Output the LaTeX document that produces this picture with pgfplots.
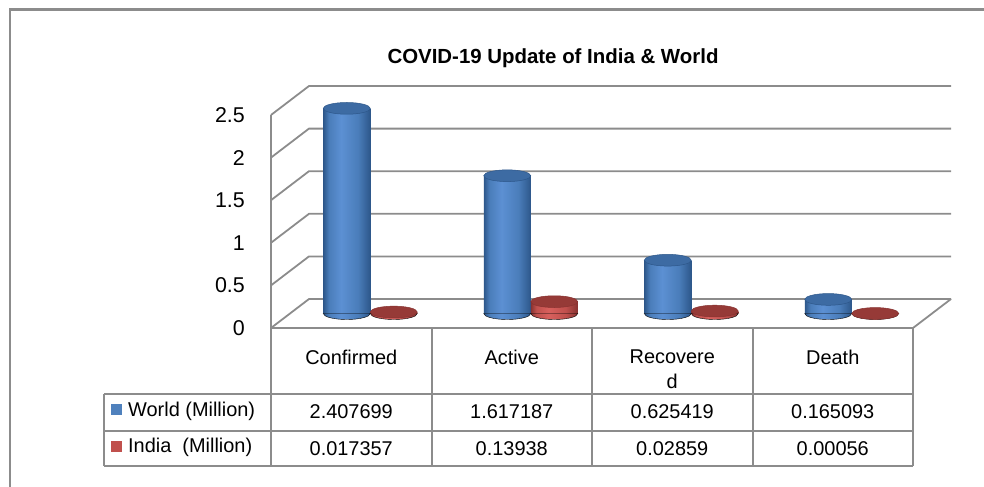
\documentclass[border=0pt]{standalone}
\usepackage{fontspec}
\setmainfont{Liberation Sans}
\usepackage{pgfplots}
\pgfplotsset{compat=1.18}
\usepackage{pgfplotstable}

\definecolor{gridc}{HTML}{8C8C8C}
\definecolor{bD}{HTML}{2D578A}
\definecolor{bM}{HTML}{4A7DBA}
\definecolor{bL}{HTML}{5C90D3}
\definecolor{bT}{HTML}{3D6BA3}
\definecolor{rD}{HTML}{873230}
\definecolor{rM}{HTML}{C0504D}
\definecolor{rL}{HTML}{D8605D}
\definecolor{rT}{HTML}{963A37}
\definecolor{keyB}{HTML}{4F81BD}
\definecolor{keyR}{HTML}{C0504D}

\pgfdeclarehorizontalshading{cylB}{100bp}{color(0bp)=(bD); color(25bp)=(bD); color(31bp)=(bM); color(44bp)=(bL); color(62bp)=(bM); color(75bp)=(bD); color(100bp)=(bD)}
\pgfdeclarehorizontalshading{cylR}{100bp}{color(0bp)=(rD); color(25bp)=(rD); color(31bp)=(rM); color(44bp)=(rL); color(62bp)=(rM); color(75bp)=(rD); color(100bp)=(rD)}

% shaded lower half-ellipse marks for the cylinder bottoms
\pgfdeclareplotmark{botB}{\shade[shading=cylB] (-23.5bp,0pt) arc[start angle=180, end angle=360, x radius=23.5bp, y radius=6bp] -- cycle;}
\pgfdeclareplotmark{botR}{\shade[shading=cylR] (-23.5bp,0pt) arc[start angle=180, end angle=360, x radius=23.5bp, y radius=6bp] -- cycle;}

\pgfplotstableread{
x   base world    india
0.5 0    2.407699 0.017357
1.5 0    1.617187 0.13938
2.5 0    0.625419 0.02859
3.5 0    0.165093 0.00056
}\datatable

\newcommand{\tf}{\fontsize{20}{24}\selectfont}
\pgfplotsset{
  wbar/.style={ybar, bar width=47bp, bar shift=0pt, draw=none, shading=cylB, xshift=-4.5bp, yshift=14.5bp},
  ibar/.style={ybar, bar width=47bp, bar shift=0pt, draw=none, shading=cylR, xshift=42.5bp, yshift=14.5bp},
}

\begin{document}
\begin{tikzpicture}
\useasboundingbox (0,0) rectangle (984bp,-487bp);
% outer frame
\draw[gridc, line width=2.4bp] (10bp,-490bp) -- (10bp,-9.5bp) -- (990bp,-9.5bp);
% title
\node[font=\fontsize{20.5}{24}\selectfont\bfseries] at (553bp,-58bp) {COVID-19 Update of India \& World};

\begin{axis}[
  at={(271bp,-328bp)}, anchor=south west,
  scale only axis, width=642bp, height=213bp,
  xmin=0, xmax=4, ymin=0, ymax=2.5,
  clip=false,
  axis line style={draw=none},
  major tick length=0pt,
  xtick=\empty,
  ytick={0,0.5,1,1.5,2,2.5},
  yticklabels={0,0.5,1,1.5,2,2.5},
  yticklabel style={font=\fontsize{21.5}{24}\selectfont, anchor=east, inner sep=0pt, xshift=-26bp},
]
% walls and floor
\pgfplotsinvokeforeach{0,0.5,1,1.5,2,2.5}{
  \draw[gridc, line width=1.8bp] (axis cs:0,#1) -- ++(38bp,29bp) -- ([shift={(38bp,29bp)}]axis cs:4,#1);
}
\draw[gridc, line width=1.8bp] (axis cs:0,2.5) -- (axis cs:0,0) -- (axis cs:4,0) -- ++(38bp,29bp);

% cylinder bottoms
\addplot[only marks, mark=botB, xshift=-4.5bp, yshift=14.5bp] table[x=x, y=base] {\datatable};
\addplot[only marks, mark=botR, xshift=42.5bp, yshift=14.5bp] table[x=x, y=base] {\datatable};
% cylinder bodies (one plot per bar so that each is shaded on its own)
\addplot[wbar] coordinates {(0.5,2.407699)};
\addplot[wbar] coordinates {(1.5,1.617187)};
\addplot[wbar] coordinates {(2.5,0.625419)};
\addplot[wbar] coordinates {(3.5,0.165093)};
\addplot[ibar] coordinates {(0.5,0.017357)};
\addplot[ibar] coordinates {(1.5,0.13938)};
\addplot[ibar] coordinates {(2.5,0.02859)};
\addplot[ibar] coordinates {(3.5,0.00056)};
% cylinder tops
\addplot[only marks, mark=*, mark size=23.5bp, mark options={yscale=0.25, draw=bD, line width=0.5bp, fill=bT}, xshift=-4.5bp, yshift=14.5bp] table[x=x, y=world] {\datatable};
\addplot[only marks, mark=*, mark size=23.5bp, mark options={yscale=0.25, draw=rD, line width=0.5bp, fill=rT}, xshift=42.5bp, yshift=14.5bp] table[x=x, y=india] {\datatable};
\end{axis}

% data table
\begin{scope}[gridc, line width=2bp]
  \foreach \xx in {271,431.5,592,752.5,913} {\draw (\xx bp,-328bp) -- (\xx bp,-466bp);}
  \draw (104bp,-394bp) -- (104bp,-466bp);
  \foreach \yy in {394,431,466} {\draw (104bp,-\yy bp) -- (913bp,-\yy bp);}
\end{scope}
\begin{scope}[every node/.style={font=\tf, inner sep=0pt}]
  \node at (351.25bp,-357bp) {Confirmed};
  \node at (511.75bp,-357bp) {Active};
  \node at (672.25bp,-357bp) {Recovere};
  \node at (672.25bp,-381bp) {d};
  \node at (832.75bp,-357bp) {Death};
  \fill[keyB] (111bp,-404bp) rectangle (122bp,-415bp);
  \fill[keyR] (111bp,-441bp) rectangle (122bp,-452bp);
  \node[anchor=west] at (128bp,-411bp) {World (Million)};
  \node[anchor=west] at (128bp,-447.5bp) {India\ \ (Million)};
  \node at (351.25bp,-412bp) {2.407699};
  \node at (511.75bp,-412bp) {1.617187};
  \node at (672.25bp,-412bp) {0.625419};
  \node at (832.75bp,-412bp) {0.165093};
  \node at (351.25bp,-448.5bp) {0.017357};
  \node at (511.75bp,-448.5bp) {0.13938};
  \node at (672.25bp,-448.5bp) {0.02859};
  \node at (832.75bp,-448.5bp) {0.00056};
\end{scope}
\end{tikzpicture}
\end{document}
